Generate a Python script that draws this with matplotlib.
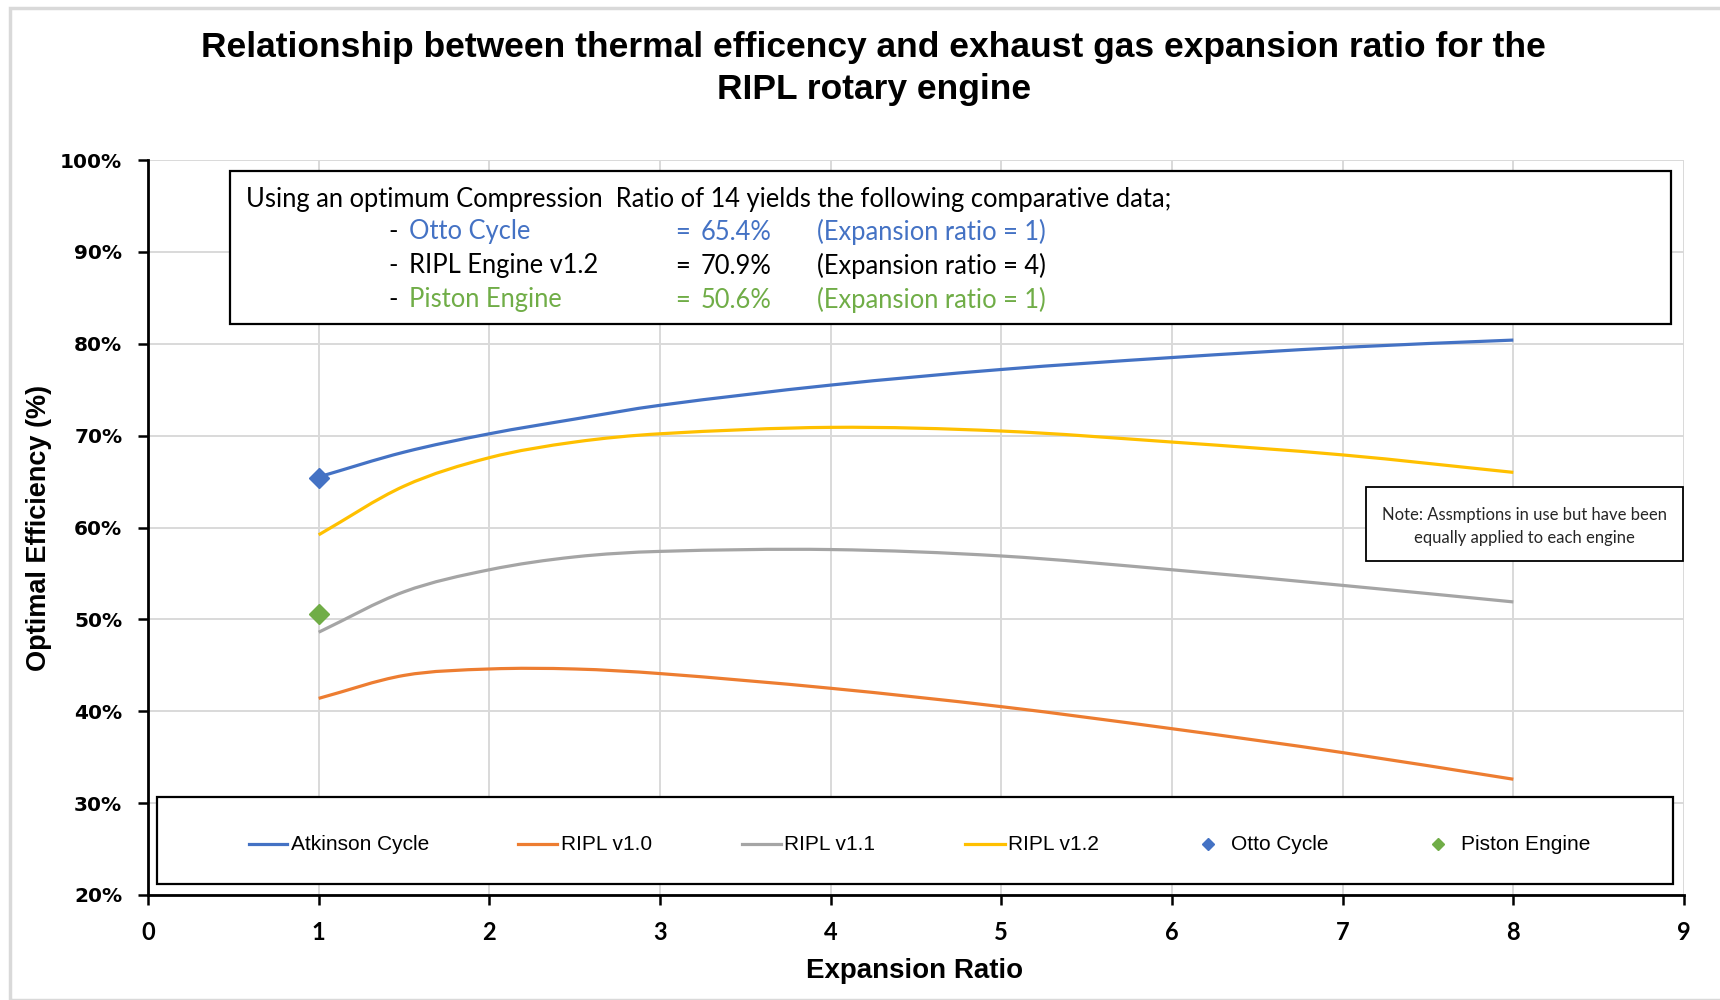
import numpy as np
import matplotlib
matplotlib.use('Agg')
import matplotlib.pyplot as plt
from matplotlib.path import Path
from matplotlib.patches import PathPatch, Rectangle
from matplotlib.lines import Line2D
from matplotlib.ticker import FuncFormatter

# expansion ratio sample points
expansion = [1, 1.5, 2, 2.5, 3, 4, 5, 6, 7, 8]

# optimal efficiency (%) per series
atkinson = [65.5, 68.2, 70.2, 71.8, 73.3, 75.5, 77.2, 78.5, 79.6, 80.4]
ripl_v10 = [41.4, 43.9, 44.6, 44.6, 44.1, 42.5, 40.5, 38.1, 35.5, 32.6]
ripl_v11 = [48.6, 53.0, 55.4, 56.8, 57.4, 57.6, 56.9, 55.4, 53.7, 51.9]
ripl_v12 = [59.2, 64.5, 67.6, 69.3, 70.2, 70.9, 70.5, 69.3, 67.9, 66.0]

otto_x, otto_y = [1], [65.4]
piston_x, piston_y = [1], [50.6]

series_names = ['Atkinson Cycle', 'RIPL v1.0', 'RIPL v1.1', 'RIPL v1.2']
series_colors = ['#4472C4', '#ED7D31', '#A5A5A5', '#FFC000']
otto_color = '#4472C4'
piston_color = '#70AD47'

y_ticks = [20, 30, 40, 50, 60, 70, 80, 90, 100]
x_ticks = [0, 1, 2, 3, 4, 5, 6, 7, 8, 9]


def smooth_path(xs, ys):
    # smoothed line through every point (cubic hermite as bezier segments)
    x = np.asarray(xs, float)
    y = np.asarray(ys, float)
    n = len(x)
    m = np.empty(n)
    m[0] = (y[1] - y[0]) / (x[1] - x[0])
    m[-1] = (y[-1] - y[-2]) / (x[-1] - x[-2])
    m[1:-1] = (y[2:] - y[:-2]) / (x[2:] - x[:-2])
    verts = [(x[0], y[0])]
    codes = [Path.MOVETO]
    for i in range(n - 1):
        dx = x[i + 1] - x[i]
        verts += [(x[i] + dx / 3, y[i] + m[i] * dx / 3),
                  (x[i + 1] - dx / 3, y[i + 1] - m[i + 1] * dx / 3),
                  (x[i + 1], y[i + 1])]
        codes += [Path.CURVE4] * 3
    return Path(verts, codes)


fig = plt.figure(figsize=(17.2, 10), dpi=100)
ax = fig.add_axes([148 / 1720, 0.105, (1684 - 148) / 1720, 0.735])

# outer light border of the chart area
fig.add_artist(Rectangle((10 / 1720, 0), 1.0, 1 - 8 / 1000, transform=fig.transFigure,
                         fill=False, edgecolor='#D9D9D9', linewidth=2.5))

for ys, c in zip([atkinson, ripl_v10, ripl_v11, ripl_v12], series_colors):
    ax.add_patch(PathPatch(smooth_path(expansion, ys), facecolor='none',
                           edgecolor=c, linewidth=2.3, zorder=3, capstyle='butt'))

ax.plot(otto_x, otto_y, linestyle='none', marker='D', markersize=10.5,
        color=otto_color, zorder=4)
ax.plot(piston_x, piston_y, linestyle='none', marker='D', markersize=10.5,
        color=piston_color, zorder=4)

ax.set_xlim(0, 9)
ax.set_ylim(20, 100)
ax.set_xticks(x_ticks)
ax.set_yticks(y_ticks)
ax.yaxis.set_major_formatter(FuncFormatter(lambda v, p: f'{int(v)}%'))
ax.grid(True, color='#D9D9D9', linewidth=1.4, zorder=0)
ax.set_axisbelow(True)
for s in ['top', 'right']:
    ax.spines[s].set_visible(False)
for s in ['left', 'bottom']:
    ax.spines[s].set_linewidth(2.0)
    ax.spines[s].set_color('black')
ax.tick_params(axis='both', direction='out', length=7, width=1.8, color='black')
ax.tick_params(axis='y', pad=11.5)
ax.tick_params(axis='x', pad=11.5)
for lbl in ax.get_yticklabels():
    lbl.set_fontfamily('DejaVu Sans')
    lbl.set_fontweight('bold')
    lbl.set_fontsize(14.5)
for lbl in ax.get_xticklabels():
    lbl.set_fontfamily('Lato')
    lbl.set_fontweight('bold')
    lbl.set_fontsize(17)

# title
fig.text(0.508, 0.953, 'Relationship between thermal efficency and exhaust gas expansion ratio for the',
         ha='center', va='center', fontsize=25.5, fontweight='bold', family='Liberation Sans')
fig.text(0.508, 0.911, 'RIPL rotary engine',
         ha='center', va='center', fontsize=25.5, fontweight='bold', family='Liberation Sans')

fig.text(0.532, 0.029, 'Expansion Ratio', ha='center', va='center',
         fontsize=20, fontweight='bold', family='Liberation Sans')
fig.text(0.0227, 0.472, 'Optimal Efficiency (%)', ha='center', va='center', rotation=90,
         fontsize=19.5, fontweight='bold', family='Liberation Sans')

# comparison text box
fig.add_artist(Rectangle((230 / 1720, 0.676), (1671 - 230) / 1720, 0.153,
                         transform=fig.transFigure, facecolor='white',
                         edgecolor='black', linewidth=1.6, zorder=5))
tf = dict(fontsize=18.4, family='Lato', va='center', zorder=6)
fig.text(246 / 1720, 0.801,
         'Using an optimum Compression  Ratio of 14 yields the following comparative data;', **tf)
rows = [('Otto Cycle', '65.4%', '(Expansion ratio = 1)', otto_color),
        ('RIPL Engine v1.2', '70.9%', '(Expansion ratio = 4)', 'black'),
        ('Piston Engine', '50.6%', '(Expansion ratio = 1)', piston_color)]
for (name, val, note, c), yy in zip(rows, [0.768, 0.734, 0.700]):
    fig.text(388 / 1720, yy, '-', color='black', **tf)
    fig.text(409 / 1720, yy, name, color=c, **tf)
    fig.text(675 / 1720, yy, '=', color=c, **tf)
    fig.text(701 / 1720, yy, val, color=c, **tf)
    fig.text(817 / 1720, yy, note, color=c, **tf)

# note box
fig.add_artist(Rectangle((1366 / 1720, 0.439), (1683 - 1366) / 1720, 0.074,
                         transform=fig.transFigure, facecolor='white',
                         edgecolor='black', linewidth=1.3, zorder=5))
fig.text(1524 / 1720, 0.485, 'Note: Assmptions in use but have been', ha='center', va='center',
         fontsize=12, family='Lato', color='#262626', zorder=6)
fig.text(1524 / 1720, 0.462, 'equally applied to each engine', ha='center', va='center',
         fontsize=12, family='Lato', color='#262626', zorder=6)

# legend box
fig.add_artist(Rectangle((157 / 1720, 0.116), (1673 - 157) / 1720, 0.087,
                         transform=fig.transFigure, facecolor='white',
                         edgecolor='black', linewidth=1.6, zorder=5))
ly = 0.156
line_pos = [(249, 287, 291), (518, 557, 561), (742, 781, 784), (965, 1005, 1008)]
for (x0, x1, xt), name, c in zip(line_pos, series_names, series_colors):
    fig.add_artist(Line2D([x0 / 1720, x1 / 1720], [ly, ly], transform=fig.transFigure,
                          color=c, linewidth=2.3, zorder=6))
    fig.text(xt / 1720, ly, name, ha='left', va='center', fontsize=15,
             family='Liberation Sans', zorder=6)
for xm, xt, name, c in [(1208, 1231, 'Otto Cycle', otto_color),
                        (1438, 1461, 'Piston Engine', piston_color)]:
    fig.add_artist(Line2D([xm / 1720], [ly], transform=fig.transFigure, linestyle='none',
                          marker='D', markersize=6.5, color=c, zorder=6))
    fig.text(xt / 1720, ly, name, ha='left', va='center', fontsize=15,
             family='Liberation Sans', zorder=6)

fig.savefig('out.png', dpi=100)
